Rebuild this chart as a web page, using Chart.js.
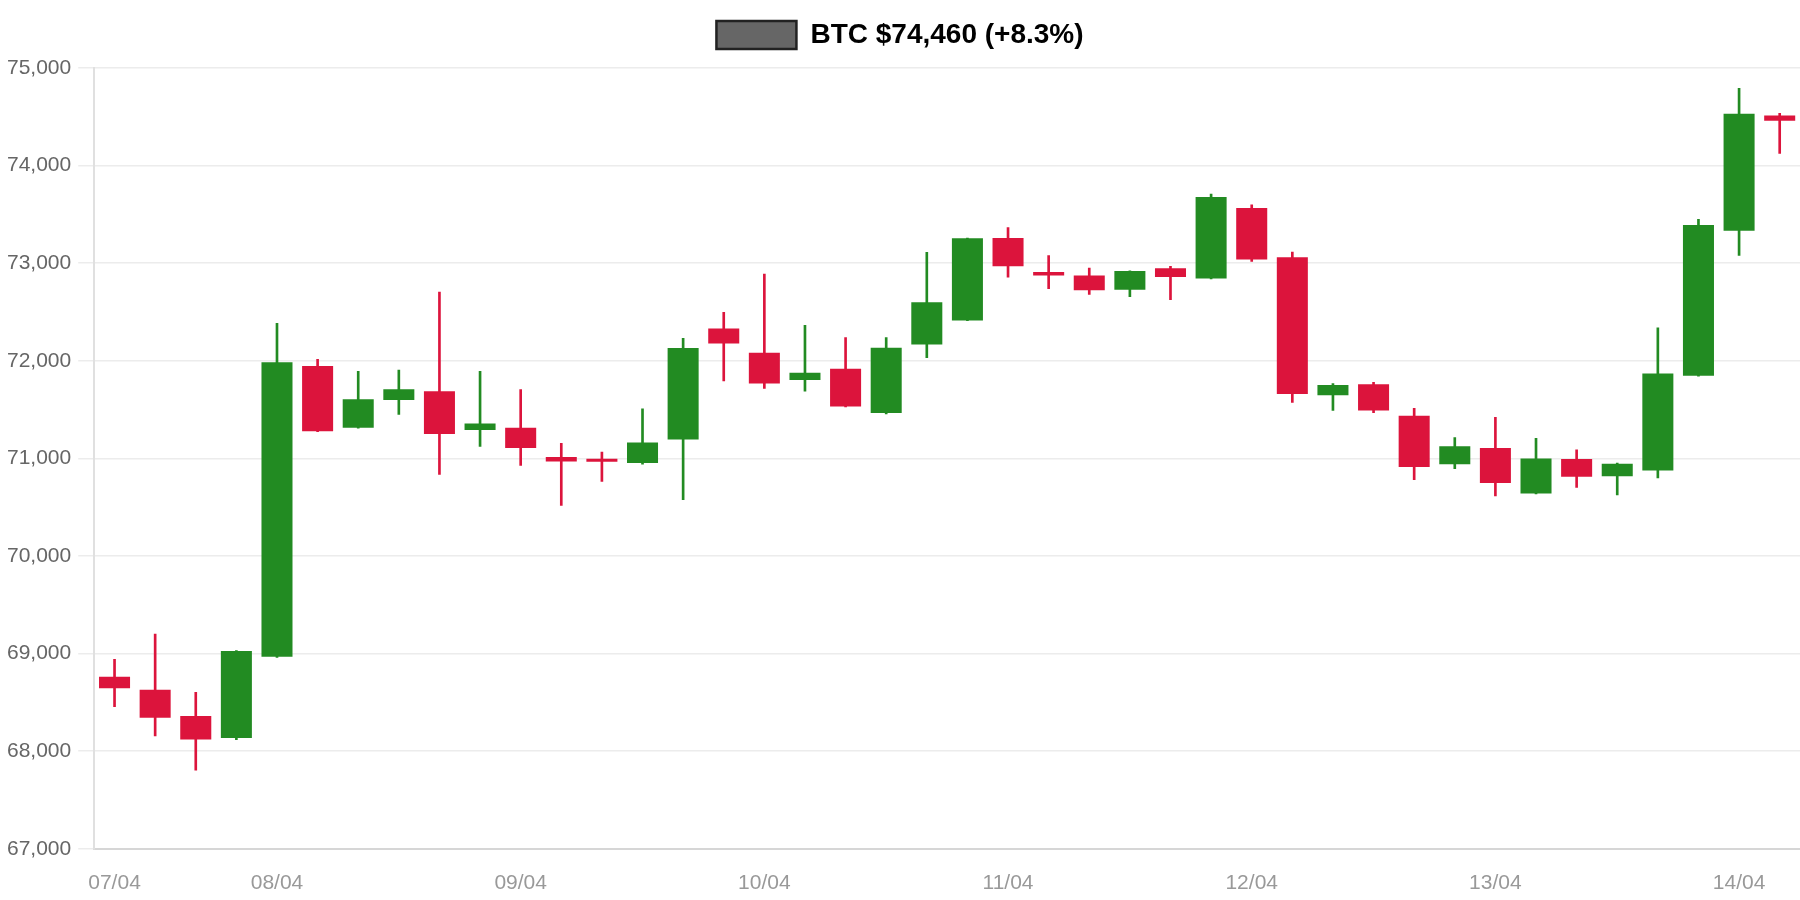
<!DOCTYPE html>
<html>
<head>
<meta charset="utf-8">
<script src="https://cdn.jsdelivr.net/npm/chart.js@4.4.1/dist/chart.umd.min.js"></script>
<style>
  html, body { margin: 0; padding: 0; background: #ffffff; overflow: hidden; }
  #wrap { width: 1800px; height: 900px; position: relative; }
  canvas { display: block; }
</style>
</head>
<body>
<div id="wrap"><canvas id="c" width="1800" height="900"></canvas></div>
<script>
const seriesTitle = "BTC $74,460 (+8.3%)";
const labels = [
  "07/04 08:00","07/04 12:00","07/04 16:00","07/04 20:00",
  "08/04 00:00","08/04 04:00","08/04 08:00","08/04 12:00","08/04 16:00","08/04 20:00",
  "09/04 00:00","09/04 04:00","09/04 08:00","09/04 12:00","09/04 16:00","09/04 20:00",
  "10/04 00:00","10/04 04:00","10/04 08:00","10/04 12:00","10/04 16:00","10/04 20:00",
  "11/04 00:00","11/04 04:00","11/04 08:00","11/04 12:00","11/04 16:00","11/04 20:00",
  "12/04 00:00","12/04 04:00","12/04 08:00","12/04 12:00","12/04 16:00","12/04 20:00",
  "13/04 00:00","13/04 04:00","13/04 08:00","13/04 12:00","13/04 16:00","13/04 20:00",
  "14/04 00:00","14/04 04:00"
];
const openP  = [68763,68630,68361,68136,68968,71948,71313,71598,71687,71292,71313,71014,70993,70952,71193,72332,72082,71802,71918,71466,72168,72414,73259,72911,72875,72729,72949,72844,73566,73061,71647,71759,71437,70939,71106,70640,70993,70818,70877,71846,73332,74514];
const highP  = [68942,69200,68604,69030,72385,72014,71893,71904,72704,71893,71705,71155,71065,71509,72229,72496,72889,72363,72239,72239,73111,73258,73366,73078,72949,72922,72969,73708,73597,73115,71766,71780,71512,71213,71421,71206,71089,70952,72339,73449,74791,74535];
const lowP   = [68456,68157,67806,68119,68960,71275,71310,71450,70835,71124,70928,70519,70763,70942,70577,71795,71716,71689,71528,71456,72031,72410,72858,72740,72681,72658,72627,72840,73017,71573,71491,71468,70783,70895,70616,70637,70702,70627,70801,71843,73079,74124];
const closeP = [68646,68344,68119,69027,71986,71278,71605,71708,71251,71357,71107,70969,70966,71162,72130,72178,71767,71877,71531,72133,72599,73255,72968,72873,72722,72919,72858,73678,73037,71661,71752,71491,70912,71125,70747,71000,70812,70945,71870,73391,74531,74460];
const yTicks = [67000,68000,69000,70000,71000,72000,73000,74000,75000];

const UP = '#228B22', DOWN = '#DC143C';
const colors = openP.map((o, i) => closeP[i] >= o ? UP : DOWN);
const bodies = openP.map((o, i) => [o, closeP[i]]);
const wicks = lowP.map((l, i) => [l, highP[i]]);

const legendGap = {
  id: 'legendGap',
  beforeLayout(chart) {
    const lg = chart.legend;
    if (lg && !lg._gapPatched) {
      const orig = lg.fit;
      lg.fit = function() { orig.call(this); this.height += 9; };
      lg._gapPatched = true;
    }
  }
};

new Chart(document.getElementById('c'), {
  type: 'bar',
  data: {
    labels: labels,
    datasets: [
      {
        label: seriesTitle,
        data: bodies,
        backgroundColor: colors,
        borderWidth: 0,
        barPercentage: 0.955,
        categoryPercentage: 0.8,
        grouped: false,
        minBarLength: 3
      },
      {
        label: 'wick',
        data: wicks,
        backgroundColor: colors,
        borderWidth: 0,
        barThickness: 2,
        grouped: false
      }
    ]
  },
  plugins: [legendGap],
  options: {
    responsive: false,
    maintainAspectRatio: false,
    animation: false,
    devicePixelRatio: 1,
    layout: { padding: { left: 0, right: 0, top: -1, bottom: -10 } },
    plugins: {
      tooltip: { enabled: false },
      legend: {
        display: true,
        position: 'top',
        labels: {
          boxWidth: 80,
          boxHeight: 28,
          padding: 22,
          color: '#1e1e1e',
          font: { size: 28, weight: 'bold' },
          generateLabels: () => [{
            text: seriesTitle,
            fillStyle: '#666666',
            strokeStyle: '#222222',
            lineWidth: 2.5,
            hidden: false,
            datasetIndex: 0
          }]
        }
      }
    },
    scales: {
      x: {
        offset: true,
        grid: { display: false, drawTicks: true, tickLength: 8 },
        border: { display: true, color: '#d6d6d6', width: 2 },
        ticks: {
          autoSkip: false,
          maxRotation: 0,
          color: '#999999',
          font: { size: 21 },
          padding: 14,
          callback: function(v, i) {
            const s = labels[i];
            return (i === 0 || s.endsWith('00:00')) ? s.slice(0, 5) : '';
          }
        }
      },
      y: {
        min: yTicks[0],
        max: yTicks[yTicks.length - 1],
        afterBuildTicks: (axis) => { axis.ticks = yTicks.map(v => ({ value: v })); },
        grid: { color: '#ececec', lineWidth: 1.5, tickLength: 16 },
        border: { display: true, color: '#e0e0e0', width: 2 },
        ticks: {
          color: '#666666',
          font: { size: 21 },
          padding: 7,
          callback: (v) => Number(v).toLocaleString('en-US')
        }
      }
    }
  }
});
</script>
</body>
</html>
